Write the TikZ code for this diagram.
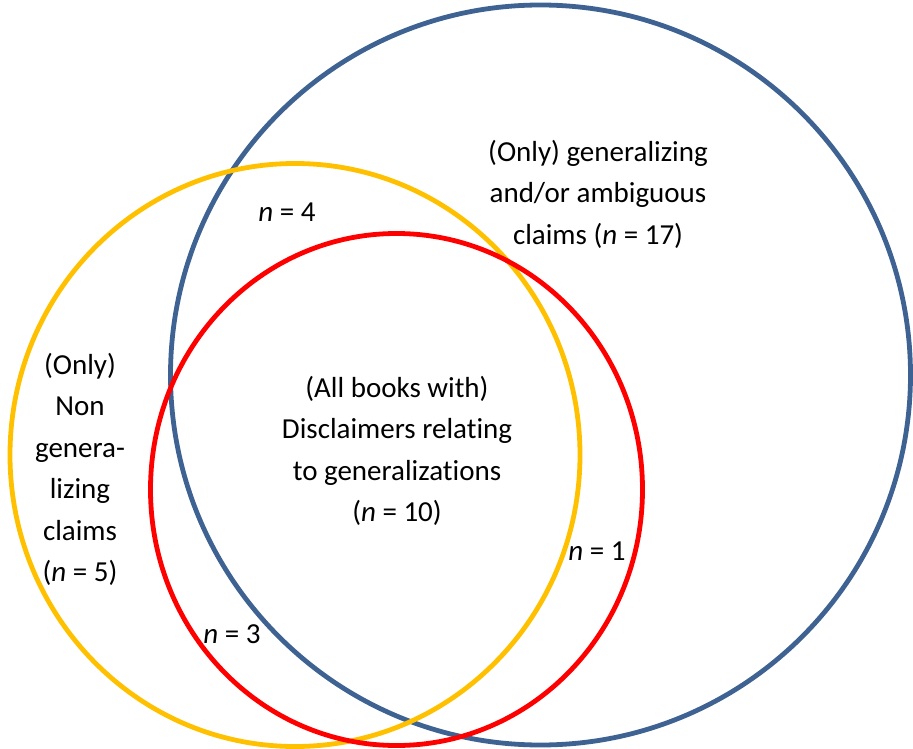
\documentclass[tikz,border=0pt]{standalone}
\usepackage{fontspec}
\setmainfont{Carlito}[RawFeature=-liga]
\usetikzlibrary{shapes.geometric}
\definecolor{vblue}{RGB}{62,98,145}
\definecolor{vyellow}{RGB}{255,192,0}
\definecolor{vred}{RGB}{255,0,0}
\begin{document}
\begin{tikzpicture}[x=1pt,y=-1pt,
  ring/.style={ellipse,draw,line width=4.8pt,inner sep=0pt,outer sep=0pt},
  lbl/.style={align=center,inner sep=0pt,font=\fontsize{29}{41.5}\selectfont}]
\useasboundingbox (0,0) rectangle (913,749);
\node[ring,vblue,minimum width=740pt,minimum height=740pt] (blue) at (540.5,375) {};
\node[ring,vyellow,minimum width=570pt,minimum height=583pt] (yellow) at (295,455) {};
\node[ring,vred,minimum width=492pt,minimum height=512pt] (red) at (396.5,489.5) {};
\node[lbl] (t1) at (598,194) {(Only) generalizing\\and/or ambiguous\\claims (\textit{n} = 17)};
\node[lbl] (t2) at (80,469.5) {(Only)\\Non\\genera-\\lizing\\claims\\(\textit{n} = 5)};
\node[lbl] (t3) at (397,451) {(All books with)\\Disclaimers relating\\to generalizations\\(\textit{n} = 10)};
\node[lbl] (n4) at (287,212) {\textit{n} = 4};
\node[lbl] (n1) at (597,551) {\textit{n} = 1};
\node[lbl] (n3) at (232,634) {\textit{n} = 3};
\end{tikzpicture}
\end{document}
